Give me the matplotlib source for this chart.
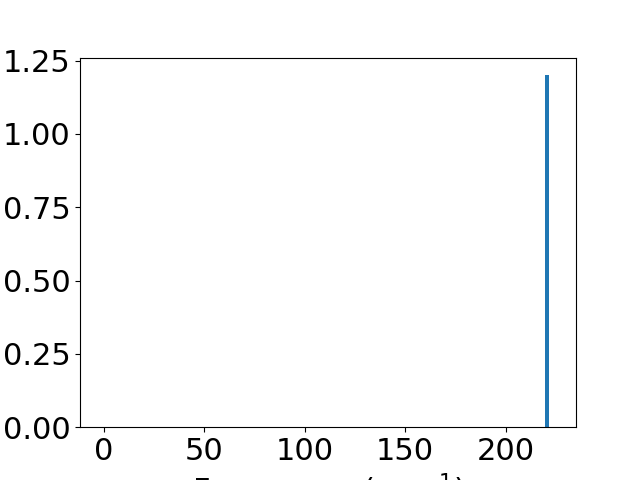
import matplotlib
matplotlib.use("Agg")
import matplotlib.pyplot as plt

frequencies = [220.6]
intensities = [1.2]

plt.rcParams['font.size'] = 22
fig, ax = plt.subplots(figsize=(6.4, 4.8), dpi=100)
ax.bar(frequencies, intensities, width=2, color='#1f77b4')
ax.set_xlim(-11.8, 235)
ax.set_xlabel('Frequency (cm$^{-1}$)')
fig.savefig('out.png')
